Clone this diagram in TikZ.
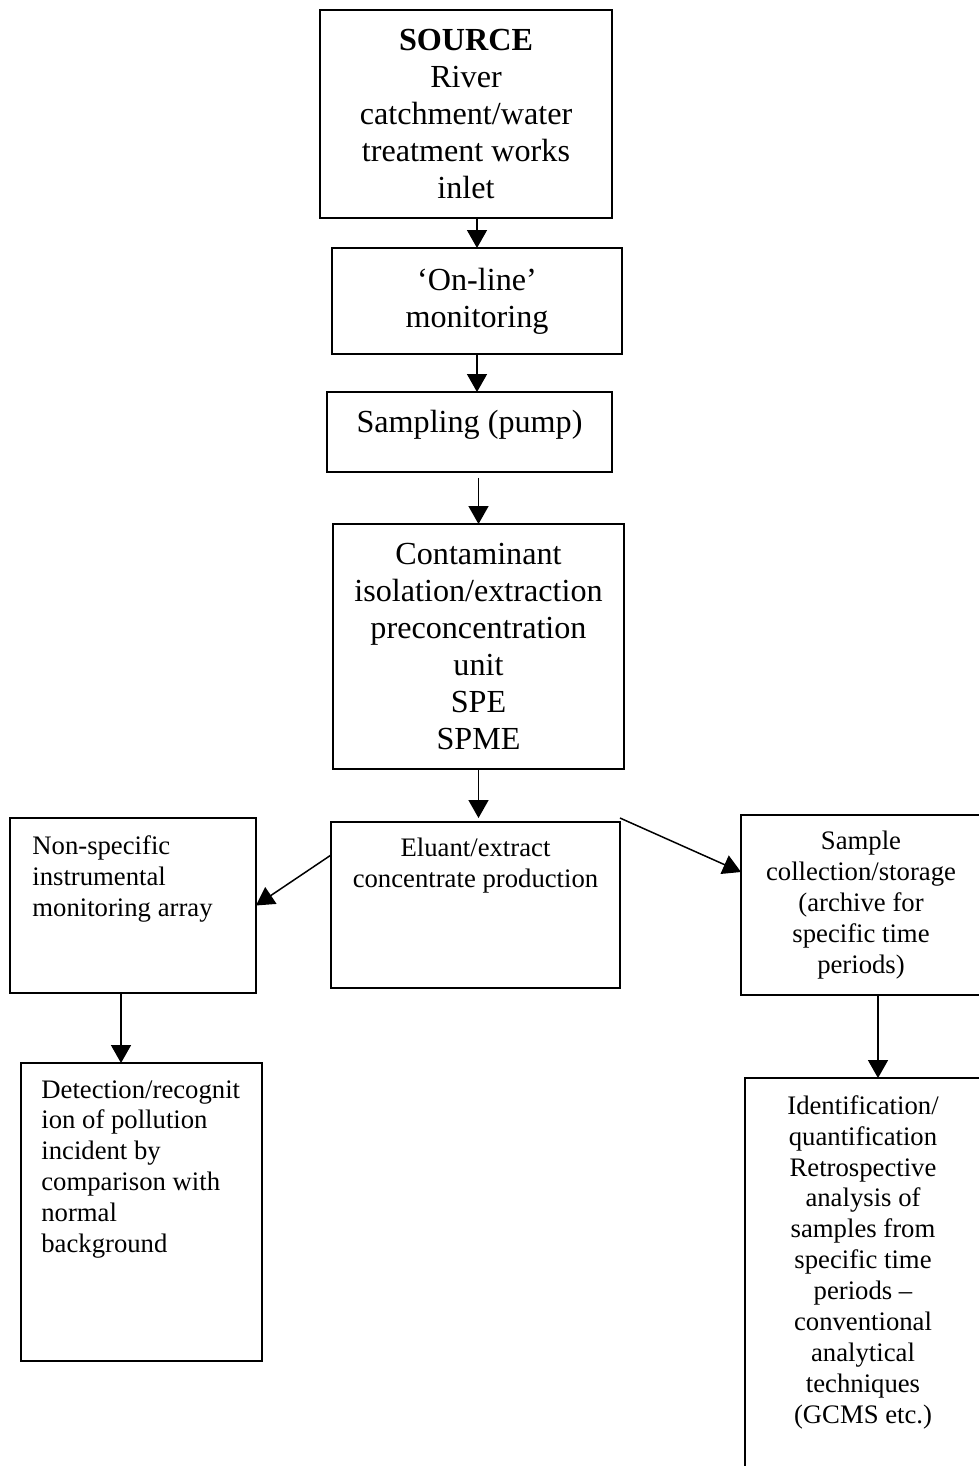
\documentclass[tikz,border=0pt]{standalone}
\usepackage{fontspec}
\setmainfont{Liberation Serif}
\usepackage{tikz}
\usetikzlibrary{arrows.meta,calc,positioning}

\tikzset{
  frame/.style={draw, line width=1.1pt, rectangle, inner sep=0pt, outer sep=0pt},
  bigtxt/.style={font=\fontsize{18.3}{21}\selectfont, align=center, inner sep=0pt},
  smalltxt/.style={font=\fontsize{15.2}{17.6}\selectfont, align=center, inner sep=0pt},
  flow/.style={line width=0.85pt, -{Triangle[length=0.36cm, width=0.4cm]}}
}

\begin{document}
\begin{tikzpicture}[x=0.02cm, y=-0.02cm]
\useasboundingbox (0,0) rectangle (979,1466);
\clip (0,0) rectangle (979,1466);
% main column
\node[frame, minimum width=5.84cm, minimum height=4.16cm] (source) at (466,114) {};
\node[frame, minimum width=5.80cm, minimum height=2.12cm] (online) at (477,301) {};
\node[frame, minimum width=5.70cm, minimum height=1.60cm] (sampling) at (469.5,432) {};
\node[frame, minimum width=5.82cm, minimum height=4.90cm] (contam) at (478.5,646.5) {};
\node[frame, minimum width=5.78cm, minimum height=3.32cm] (eluant) at (475.5,905) {};
% side columns
\node[frame, minimum width=4.92cm, minimum height=3.50cm] (nonspec) at (133,905.5) {};
\node[frame, minimum width=4.82cm, minimum height=5.96cm] (detect) at (141.5,1212) {};
\node[frame, minimum width=4.80cm, minimum height=3.60cm] (archive) at (861,905) {};
\node[frame, minimum width=4.72cm, minimum height=8.44cm] (identify) at (863,1289) {};

\node[bigtxt] (sourcetxt) at (source) {\textbf{SOURCE}\\River\\catchment/water\\treatment works\\inlet};
\node[bigtxt] (onlinetxt) at (online) {‘On-line’\\monitoring};
\node[bigtxt, yshift=0.14cm] (samplingtxt) at (sampling) {Sampling (pump)};
\node[bigtxt] (contamtxt) at (contam) {Contaminant\\isolation/extraction\\preconcentration\\unit\\SPE\\SPME};
\node[smalltxt, below=0.32cm of eluant.north] (eluanttxt) {Eluant/extract\\concentrate production};
\node[smalltxt, align=left, below right=0.34cm and 0.44cm of nonspec.north west] (nonspectxt) {Non-specific\\instrumental\\monitoring array};
\node[smalltxt, align=left, below right=0.34cm and 0.40cm of detect.north west] (detecttxt) {Detection/recognit\\ion of pollution\\incident by\\comparison with\\normal\\background};
\node[smalltxt, below=0.32cm of archive.north] (archivetxt) {Sample\\collection/storage\\(archive for\\specific time\\periods)};
\node[smalltxt, below=0.34cm of identify.north] (identifytxt) {Identification/\\quantification\\Retrospective\\analysis of\\samples from\\specific time\\periods –\\conventional\\analytical\\techniques\\(GCMS etc.)};

% arrows
\draw[flow] (source.south -| online.north) -- (online.north);
\draw[flow] (online.south) -- (online.south |- sampling.north);
\draw[flow] ([yshift=-0.12cm]sampling.south -| contam.north) -- (contam.north);
\draw[flow] (contam.south) -- ([yshift=0.08cm]contam.south |- eluant.north);
\draw[flow] ([yshift=-0.66cm]eluant.north west) -- (nonspec.east);
\draw[flow] ([yshift=0.08cm]eluant.north east) -- ([yshift=-1.14cm]archive.north west);
\draw[flow] ([xshift=-0.24cm]nonspec.south) -- ([xshift=-0.24cm]nonspec.south |- detect.north);
\draw[flow] ([xshift=0.34cm]archive.south) -- ([xshift=0.34cm]archive.south |- identify.north);
\end{tikzpicture}
\end{document}
